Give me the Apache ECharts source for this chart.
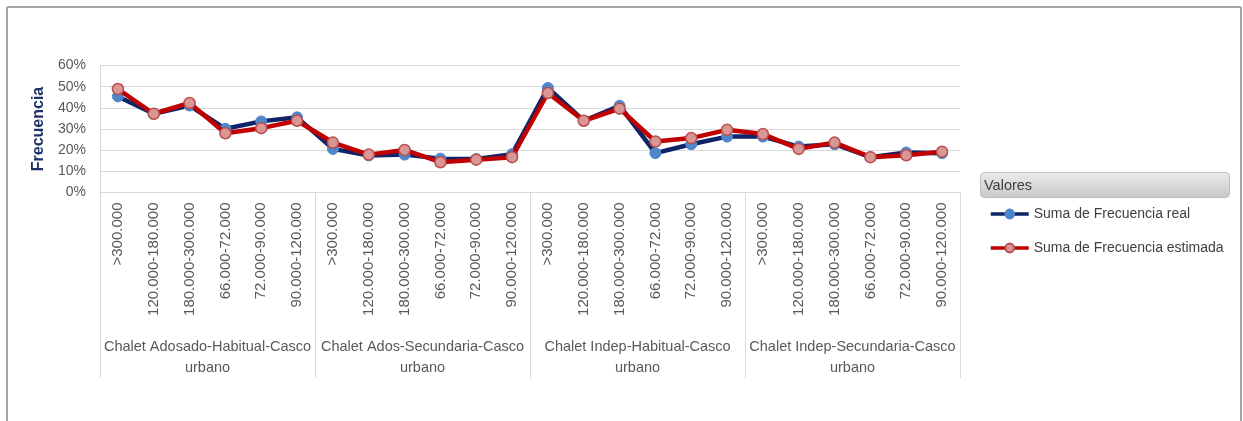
<!DOCTYPE html>
<html>
<head>
<meta charset="utf-8">
<script src="https://cdn.jsdelivr.net/npm/echarts@6/dist/echarts.min.js"></script>
<style>
  html, body { margin: 0; padding: 0; background: #fff; }
  #chart { width: 1243px; height: 421px; }
</style>
</head>
<body>
<div id="chart"></div>
<script>
// Price bands repeated inside each housing group
const bands = ['>300.000', '120.000-180.000', '180.000-300.000', '66.000-72.000', '72.000-90.000', '90.000-120.000'];
const groups = [
  'Chalet Adosado-Habitual-Casco\nurbano',
  'Chalet Ados-Secundaria-Casco\nurbano',
  'Chalet Indep-Habitual-Casco\nurbano',
  'Chalet Indep-Secundaria-Casco\nurbano'
];
const yTicks = [0, 0.1, 0.2, 0.3, 0.4, 0.5, 0.6];

// Frequencies per band, group by group
const frecuenciaReal = [
  0.454, 0.372, 0.411, 0.301, 0.336, 0.355,
  0.206, 0.175, 0.179, 0.160, 0.158, 0.181,
  0.494, 0.339, 0.410, 0.186, 0.228, 0.264,
  0.264, 0.217, 0.228, 0.167, 0.189, 0.186
];
const frecuenciaEstimada = [
  0.489, 0.372, 0.423, 0.280, 0.304, 0.339,
  0.236, 0.179, 0.201, 0.143, 0.155, 0.167,
  0.470, 0.339, 0.396, 0.241, 0.257, 0.296,
  0.276, 0.206, 0.236, 0.167, 0.176, 0.193
];

const categories = [];
groups.forEach(() => bands.forEach(b => categories.push(b)));

const FONT = 'Liberation Sans';
const GRID_LINE = '#d9d9d9';
const TEXT = '#595959';

const chart = echarts.init(document.getElementById('chart'), null, { renderer: 'canvas' });

chart.setOption({
  animation: false,
  textStyle: { fontFamily: FONT },
  grid: { left: 100, right: 283, top: 65.5, bottom: 228.5, containLabel: false },
  xAxis: [
    {
      type: 'category',
      data: categories,
      boundaryGap: true,
      axisLine: { show: true, lineStyle: { color: GRID_LINE, width: 1 } },
      axisTick: { show: false },
      axisLabel: { rotate: 90, margin: 10, fontSize: 15, color: TEXT, fontFamily: FONT, interval: 0 }
    },
    {
      type: 'category',
      data: groups,
      position: 'bottom',
      boundaryGap: true,
      axisLine: { show: false },
      axisTick: { show: true, length: 186, lineStyle: { color: GRID_LINE, width: 1 } },
      axisLabel: { margin: 144, fontSize: 14.5, lineHeight: 21, color: TEXT, fontFamily: FONT, interval: 0, align: 'center' },
      splitLine: { show: false }
    }
  ],
  yAxis: {
    type: 'value',
    min: yTicks[0],
    max: yTicks[yTicks.length - 1],
    interval: 0.1,
    name: 'Frecuencia',
    nameLocation: 'middle',
    nameGap: 49,
    nameTextStyle: { fontSize: 16, fontWeight: 'bold', color: '#1f3266', fontFamily: FONT },
    axisLine: { show: true, lineStyle: { color: GRID_LINE, width: 1 } },
    axisTick: { show: false },
    axisLabel: {
      fontSize: 14, color: TEXT, margin: 14, fontFamily: FONT,
      formatter: v => Math.round(v * 100) + '%'
    },
    splitLine: { show: true, lineStyle: { color: GRID_LINE, width: 1 } }
  },
  legend: {
    orient: 'vertical',
    left: 984,
    top: 202,
    itemWidth: 38,
    itemHeight: 11,
    itemGap: 20,
    lineStyle: { width: 3.5 },
    textStyle: { fontSize: 14, color: '#404040', fontFamily: FONT },
    data: ['Suma de Frecuencia real', 'Suma de Frecuencia estimada']
  },
  graphic: [
    // chart frame
    { type: 'line', shape: { x1: 7, y1: 7, x2: 1241, y2: 7 }, style: { stroke: '#a6a6a6', lineWidth: 2 } },
    { type: 'line', shape: { x1: 7, y1: 7, x2: 7, y2: 421 }, style: { stroke: '#a6a6a6', lineWidth: 2 } },
    { type: 'line', shape: { x1: 1241, y1: 7, x2: 1241, y2: 421 }, style: { stroke: '#a6a6a6', lineWidth: 2 } },
    // legend header
    {
      type: 'rect',
      shape: { x: 980.5, y: 172.5, width: 249, height: 25, r: 4 },
      style: {
        fill: new echarts.graphic.LinearGradient(0, 0, 0, 1, [
          { offset: 0, color: '#ececec' },
          { offset: 1, color: '#c8c8c8' }
        ]),
        stroke: '#bdbdbd',
        lineWidth: 1
      }
    },
    {
      type: 'text',
      left: 984,
      top: 178,
      style: { text: 'Valores', fontSize: 14.5, fill: '#404040', fontFamily: FONT }
    }
  ],
  series: [
    {
      name: 'Suma de Frecuencia real',
      type: 'line',
      xAxisIndex: 0,
      data: frecuenciaReal,
      symbol: 'circle',
      symbolSize: 11,
      lineStyle: { color: '#0f2466', width: 4.5 },
      itemStyle: { color: '#4f86c9', borderColor: '#4f86c9', borderWidth: 1 },
      z: 2
    },
    {
      name: 'Suma de Frecuencia estimada',
      type: 'line',
      xAxisIndex: 0,
      data: frecuenciaEstimada,
      symbol: 'circle',
      symbolSize: 11,
      lineStyle: { color: '#c00000', width: 4.5 },
      itemStyle: { color: '#d99694', borderColor: '#b94f4c', borderWidth: 1.5 },
      z: 3
    }
  ]
});
</script>
</body>
</html>
